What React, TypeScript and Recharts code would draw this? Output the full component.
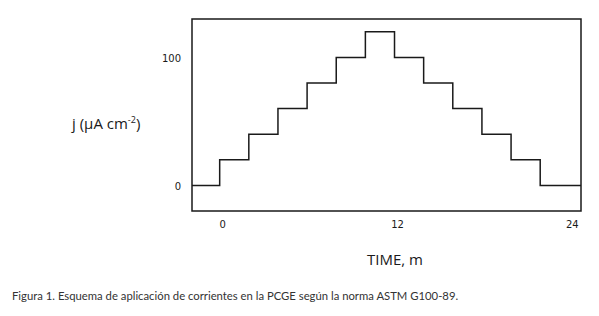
import React from 'react';
import { LineChart, Line, XAxis, YAxis, ReferenceArea } from 'recharts';

// minutes at which each current level begins (first/last entries are the plot edges)
const times = [-1.9, 0, 2, 4, 6, 8, 10, 12, 14, 16, 18, 20, 22, 24.8];
// applied current density, µA cm-2
const currents = [0, 20, 40, 60, 80, 100, 120, 100, 80, 60, 40, 20, 0, 0];

const xTicks = [0, 12, 24];
const yTicks = [0, 100];

const xDomain = [-1.9, 24.8];
const yDomain = [-20, 130];

const data = times.map((t, i) => ({ t, j: currents[i] }));

const ink = '#1a1a1a';

export default function App() {
  return (
    <div style={{ position: 'absolute', left: 0, top: 0, width: 599, height: 316, background: '#fff' }}>
      <LineChart
        width={599}
        height={316}
        data={data}
        margin={{ top: 19, right: 18, left: 0, bottom: 75 }}
      >
        <XAxis
          dataKey="t"
          type="number"
          domain={xDomain}
          ticks={xTicks}
          allowDataOverflow
          axisLine={false}
          tickLine={false}
          height={30}
          tickMargin={4}
          dx={3}
          tick={{ fill: ink, fontSize: 10, fontFamily: 'DejaVu Sans' }}
        />
        <YAxis
          type="number"
          domain={yDomain}
          ticks={yTicks}
          allowDataOverflow
          axisLine={false}
          tickLine={false}
          width={192}
          tickSize={3}
          tickMargin={8}
          dy={1}
          tick={{ fill: ink, fontSize: 10, fontFamily: 'DejaVu Sans' }}
        />
        <ReferenceArea
          x1={xDomain[0]}
          x2={xDomain[1]}
          y1={yDomain[0]}
          y2={yDomain[1]}
          fill="none"
          stroke={ink}
          strokeWidth={1.5}
          fillOpacity={0}
        />
        <Line
          type="stepAfter"
          dataKey="j"
          stroke={ink}
          strokeWidth={1.5}
          dot={false}
          isAnimationActive={false}
        />
      </LineChart>

      <div style={{ position: 'absolute', left: 72, top: 110, fontFamily: 'Open Sans', fontSize: 15, lineHeight: '20px', color: ink, whiteSpace: 'nowrap' }}>
        j (µA cm<sup style={{ fontSize: 9 }}>-2</sup>)
      </div>
      <div style={{ position: 'absolute', left: 0, width: 790, top: 249, textAlign: 'center', fontFamily: 'Open Sans', fontSize: 15, color: ink }}>
        TIME, m
      </div>
      <div style={{ position: 'absolute', left: 12, top: 289, fontFamily: 'Lato', fontSize: 11.3, color: '#333', whiteSpace: 'nowrap' }}>
        Figura 1. Esquema de aplicación de corrientes en la PCGE según la norma ASTM G100-89.
      </div>
    </div>
  );
}
